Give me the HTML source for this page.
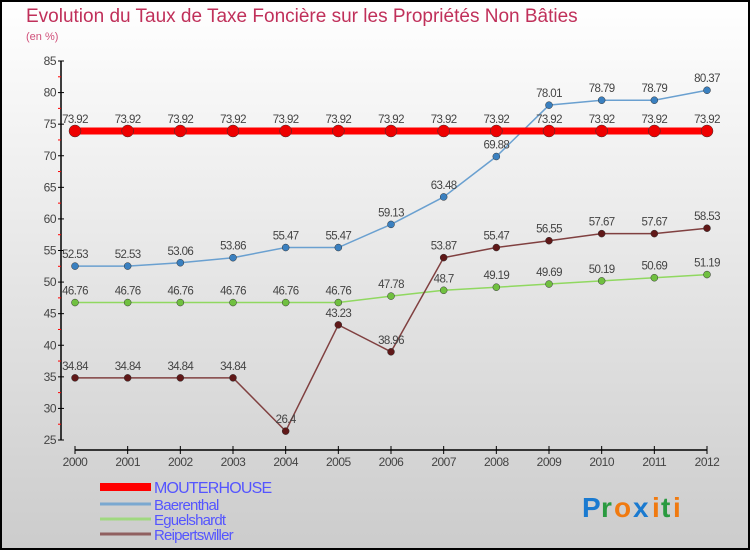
<!DOCTYPE html>
<html><head><meta charset="utf-8"><style>
body{margin:0}
svg text{font-family:"Liberation Sans",sans-serif}
</style></head><body>
<svg id="c" width="750" height="550" viewBox="0 0 750 550" xmlns="http://www.w3.org/2000/svg">
<defs><linearGradient id="bg" x1="0" y1="0" x2="0" y2="1"><stop offset="0" stop-color="#ffffff"/><stop offset="1" stop-color="#cccccc"/></linearGradient></defs>
<rect x="1" y="1" width="748" height="548" fill="url(#bg)" stroke="#000" stroke-width="2"/>
<text x="26" y="22" font-size="19" fill="#c0305a">Evolution du Taux de Taxe Foncière sur les Propriétés Non Bâties</text>
<text x="26" y="40" font-size="11" fill="#d0507a">(en %)</text>
<g id="axes"></g>
<g id="series"></g>
<g id="legend"></g>
<g font-size="28" font-weight="bold">
<text x="582" y="517" fill="#1a7ad0">P</text><text x="601" y="517" fill="#2a9a40">r</text><text x="614" y="517" fill="#f07a10">o</text><text x="633" y="517" fill="#1a7ad0">x</text><text x="652" y="517" fill="#f07a10">i</text><text x="661" y="517" fill="#2a9a40">t</text><text x="673" y="517" fill="#f07a10">i</text>
</g>
</svg>
<script>
const years=[2000,2001,2002,2003,2004,2005,2006,2007,2008,2009,2010,2011,2012];
const yTicks=[25,30,35,40,45,50,55,60,65,70,75,80,85];
const mouterhouse=[73.92,73.92,73.92,73.92,73.92,73.92,73.92,73.92,73.92,73.92,73.92,73.92,73.92];
const baerenthal=[52.53,52.53,53.06,53.86,55.47,55.47,59.13,63.48,69.88,78.01,78.79,78.79,80.37];
const eguelshardt=[46.76,46.76,46.76,46.76,46.76,46.76,47.78,48.7,49.19,49.69,50.19,50.69,51.19];
const reipertswiller=[34.84,34.84,34.84,34.84,26.4,43.23,38.96,53.87,55.47,56.55,57.67,57.67,58.53];
const names=["MOUTERHOUSE","Baerenthal","Eguelshardt","Reipertswiller"];
const NS="http://www.w3.org/2000/svg";
const x0=75,x1=707,yMin=25,yMax=85,py0=440,py1=61;
const X=i=>x0+(x1-x0)*i/(years.length-1);
const Y=v=>py0-(v-yMin)/(yMax-yMin)*(py0-py1);
function mk(tag,at,parent,txt){const e=document.createElementNS(NS,tag);for(const k in at)e.setAttribute(k,at[k]);if(txt!==undefined)e.textContent=txt;parent.appendChild(e);return e;}
const ax=document.getElementById('axes');
let e=mk('line',{x1:61,y1:py1,x2:61,y2:py0,stroke:'#000','stroke-width':1.5},ax);


yTicks.forEach(v=>{
 mk('line',{x1:58,x2:64,y1:Y(v),y2:Y(v),stroke:'#000'},ax);
 if(v<yMax) mk('line',{x1:58,x2:61,y1:Y(v+2.5),y2:Y(v+2.5),stroke:'#f00'},ax);
 const t=mk('text',{x:56,y:Y(v)+4,'font-size':12,fill:'#444','text-anchor':'end','letter-spacing':'-0.5'},ax,v);
 
 
});
e=mk('line',{x1:x0,y1:450,x2:x1,y2:450,stroke:'#000','stroke-width':1.5},ax);


years.forEach((yr,i)=>{
 mk('line',{x1:X(i),x2:X(i),y1:446,y2:454,stroke:'#000'},ax);
 const t=mk('text',{x:X(i),y:466,'font-size':12,fill:'#444','text-anchor':'middle','letter-spacing':'-0.5'},ax,yr);
 
 
});
const sg=document.getElementById('series');
const defs=[
 {d:baerenthal,c:'#6aa0d0',dot:'#3a80c0',w:1.5,r:3.5,n:'baerenthal'},
 {d:eguelshardt,c:'#90d860',dot:'#70c040',w:1.5,r:3.5,n:'eguelshardt'},
 {d:reipertswiller,c:'#804040',dot:'#601818',w:1.5,r:3.5,n:'reipertswiller'},
 {d:mouterhouse,c:'#ff0000',dot:'#ee0000',w:7,r:6,n:'mouterhouse'}
];
defs.forEach(s=>{
 const g=mk('g',{},sg);
 
 
 const p=mk('polyline',{points:s.d.map((v,i)=>X(i)+','+Y(v)).join(' '),fill:'none',stroke:s.c,'stroke-width':s.w},g);
 
 
 s.d.forEach((v,i)=>{
  const c=mk('circle',{cx:X(i),cy:Y(v),r:s.r,fill:s.dot,stroke:'#333','stroke-width':0.5},g);
  
  
  const t=mk('text',{x:X(i),y:Y(v)-8,'font-size':11.5,fill:'#444','text-anchor':'middle','letter-spacing':'-0.6'},g,v);
  
  
 });
});
const lg=document.getElementById('legend');
const lc=['#ff0000','#7aa8d0','#a0d880','#906060'],lw=[8,3,3,3],ly=[493,510,525,540];
names.forEach((n,i)=>{
 const g=mk('g',{},lg);
 
 
 mk('line',{x1:100,x2:151,y1:ly[i]-6,y2:ly[i]-6,stroke:lc[i],'stroke-width':lw[i]},g);
 mk('text',{x:154,y:ly[i],'font-size':i==0?16:15,fill:'#5555ff','letter-spacing':'-0.8'},g,n);
});
</script>
</body></html>
